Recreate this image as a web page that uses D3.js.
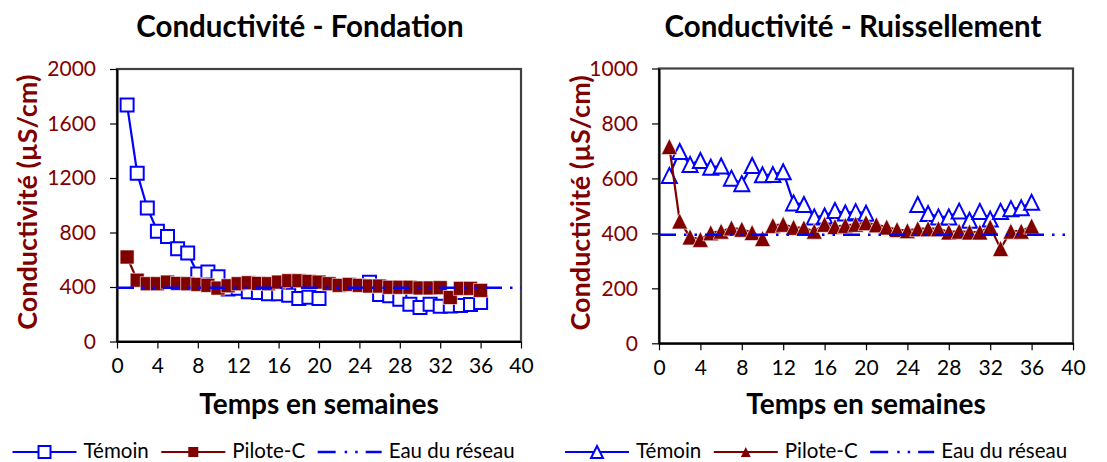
<!DOCTYPE html>
<html>
<head>
<meta charset="utf-8">
<script src="https://cdn.jsdelivr.net/npm/d3@7"></script>
<style>
  body { margin: 0; background: #fff; }
  svg { display: block; font-family: Lato, "Open Sans", sans-serif; }
</style>
</head>
<body>
<svg id="chart" width="1107" height="462"></svg>
<script>
// Weekly conductivity readings (µS/cm); null = no sample that week
const weeks = d3.range(1, 37);
const fondationTemoin = [1735, 1235, 980, 810, 770, 680, 650, 495, 510, 475, 385, 390, 365, 360, 350, 350, 340, 315, 325, 315,
  null, null, null, null, 435, 345, 335, 310, 273, 250, 273, 258, 261, 265, 272, 287];
const fondationPilote = [620, 450, 424, 424, 436, 426, 424, 419, 412, 392, 409, 424, 431, 426, 424, 436, 446, 446, 441, 436,
  424, 412, 419, 412, 407, 407, 398, 398, 398, 393, 393, 395, 323, 390, 390, 375];
const ruissTemoin = [611, 698, 651, 665, 641, 645, 601, 581, 647, 613, 614, 624, 511, 505, 460, 463, 483, 474, 479, 473,
  null, null, null, null, 505, 472, 460, 460, 481, 448, 480, 452, 480, 490, 493, 513];
const ruissPilote = [716, 445, 387, 378, 402, 408, 420, 415, 403, 381, 429, 433, 422, 420, 408, 433, 425, 429, 433, 439,
  431, 423, 414, 410, 417, 417, 417, 405, 408, 405, 405, 423, 345, 408, 408, 427];
const eauReseau = 395;

const xTicks = d3.range(0, 41, 4);
const fondationYTicks = [0, 400, 800, 1200, 1600, 2000];
const ruissYTicks = [0, 200, 400, 600, 800, 1000];

const seriesNames = ["Témoin", "Pilote-C", "Eau du réseau"];
const BLUE = "#0000ff";
const RED = "#800000";
const FONT = "Lato, 'Open Sans', sans-serif";

const svg = d3.select("#chart");

function markerPath(shape, size) {
  const h = size / 2;
  if (shape === "square") return `M${-h},${-h}H${h}V${h}H${-h}Z`;
  return `M0,${-h}L${h},${h}L${-h},${h}Z`;
}

function drawPanel(cfg) {
  const g = svg.append("g");
  const x = d3.scaleLinear().domain([0, 40]).range([cfg.left, cfg.right]);
  const y = d3.scaleLinear().domain([0, cfg.yMax]).range([cfg.bottom, cfg.top]);

  // title
  g.append("text")
    .attr("x", cfg.titleX).attr("y", 37)
    .attr("text-anchor", "middle")
    .attr("font-size", 29.5).attr("font-weight", 700)
    .attr("fill", "#000")
    .text(cfg.title);

  // plot frame
  g.append("rect")
    .attr("x", cfg.left).attr("y", cfg.top)
    .attr("width", cfg.right - cfg.left).attr("height", cfg.bottom - cfg.top)
    .attr("fill", "#fff").attr("stroke", "#404040").attr("stroke-width", 2.2);

  // axes
  const yAxis = d3.axisLeft(y).tickValues(cfg.yTicks).tickFormat(d3.format("d"))
    .tickSize(7).tickPadding(14).tickSizeOuter(0);
  const yG = g.append("g").attr("transform", `translate(${cfg.left},0)`).call(yAxis);
  yG.select(".domain").attr("stroke", "#000").attr("stroke-width", 2);
  yG.selectAll(".tick line").attr("stroke", "#000").attr("stroke-width", 1.2);
  yG.selectAll(".tick text").attr("fill", RED).attr("font-size", 21).attr("font-family", FONT);

  const xAxis = d3.axisBottom(x).tickValues(xTicks).tickFormat(d3.format("d"))
    .tickSize(7).tickPadding(10).tickSizeOuter(0);
  const xG = g.append("g").attr("transform", `translate(0,${cfg.bottom})`).call(xAxis);
  xG.select(".domain").attr("stroke", "#000").attr("stroke-width", 2);
  xG.selectAll(".tick line").attr("stroke", "#000").attr("stroke-width", 1.2);
  xG.selectAll(".tick text").attr("fill", "#000").attr("font-size", 21).attr("font-family", FONT);

  // axis titles
  g.append("text")
    .attr("x", (cfg.left + cfg.right) / 2).attr("y", 414)
    .attr("text-anchor", "middle")
    .attr("font-size", 28).attr("font-weight", 700).attr("fill", "#000")
    .text("Temps en semaines");
  g.append("text")
    .attr("transform", `translate(${cfg.yLabelX},${(cfg.top + cfg.bottom) / 2 - 3}) rotate(-90)`)
    .attr("text-anchor", "middle")
    .attr("font-size", 27).attr("font-weight", 700).attr("fill", RED)
    .text("Conductivité (µS/cm)");

  const pts = (vals) => weeks.map((w, i) => ({ w, v: vals[i] }));
  const line = d3.line().defined(d => d.v !== null).x(d => x(d.w)).y(d => y(d.v));

  // Témoin
  g.append("path").datum(pts(cfg.temoin))
    .attr("d", line).attr("fill", "none").attr("stroke", BLUE).attr("stroke-width", 2.2);
  g.selectAll(".mk-t").data(pts(cfg.temoin).filter(d => d.v !== null)).join("path")
    .attr("transform", d => `translate(${x(d.w)},${y(d.v)})`)
    .attr("d", markerPath(cfg.shape, cfg.markerSize))
    .attr("fill", "#fff").attr("stroke", BLUE).attr("stroke-width", 2);

  // Pilote-C
  g.append("path").datum(pts(cfg.pilote))
    .attr("d", line).attr("fill", "none").attr("stroke", RED).attr("stroke-width", 2.2);
  g.selectAll(".mk-p").data(pts(cfg.pilote)).join("path")
    .attr("transform", d => `translate(${x(d.w)},${y(d.v)})`)
    .attr("d", markerPath(cfg.shape, cfg.markerSize + 1))
    .attr("fill", RED).attr("stroke", "#fff").attr("stroke-width", 0.6);

  // Eau du réseau (tap water reference)
  g.append("line")
    .attr("x1", x(0)).attr("x2", x(40))
    .attr("y1", y(eauReseau)).attr("y2", y(eauReseau))
    .attr("stroke", BLUE).attr("stroke-width", 2.5)
    .attr("stroke-dasharray", "17,8,2.5,8,2.5,8");

  // legend
  const lg = g.append("g").attr("transform", `translate(${cfg.legendX},452)`);
  let cx = 0;
  seriesNames.forEach((name, i) => {
    const item = lg.append("g").attr("transform", `translate(${cx},0)`);
    if (i < 2) {
      item.append("line").attr("x1", 0).attr("x2", 64).attr("y1", 0).attr("y2", 0)
        .attr("stroke", i === 0 ? BLUE : RED).attr("stroke-width", 2.2);
      item.append("path").attr("transform", "translate(32,0)")
        .attr("d", markerPath(cfg.shape, i === 0 ? 12 : 10))
        .attr("fill", i === 0 ? "#fff" : RED)
        .attr("stroke", i === 0 ? BLUE : "none").attr("stroke-width", 2);
    } else {
      item.append("line").attr("x1", 0).attr("x2", 64).attr("y1", 0).attr("y2", 0)
        .attr("stroke", BLUE).attr("stroke-width", 2.5)
        .attr("stroke-dasharray", "18,9,2.5,8,2.5,8,19");
    }
    const t = item.append("text").attr("x", 71).attr("y", 5.5)
      .attr("font-size", 20.5).attr("fill", "#000").text(name);
    cx += 71 + t.node().getComputedTextLength() + 12.5;
  });
}

drawPanel({
  title: "Conductivité - Fondation", titleX: 300,
  left: 117, right: 521, top: 69, bottom: 341.5, yMax: 2000,
  yTicks: fondationYTicks, yLabelX: 37,
  temoin: fondationTemoin, pilote: fondationPilote,
  shape: "square", markerSize: 13, legendX: 12.5
});

drawPanel({
  title: "Conductivité - Ruissellement", titleX: 853,
  left: 659, right: 1073, top: 68.5, bottom: 343.3, yMax: 1000,
  yTicks: ruissYTicks, yLabelX: 590,
  temoin: ruissTemoin, pilote: ruissPilote,
  shape: "triangle", markerSize: 15, legendX: 565
});
</script>
</body>
</html>
